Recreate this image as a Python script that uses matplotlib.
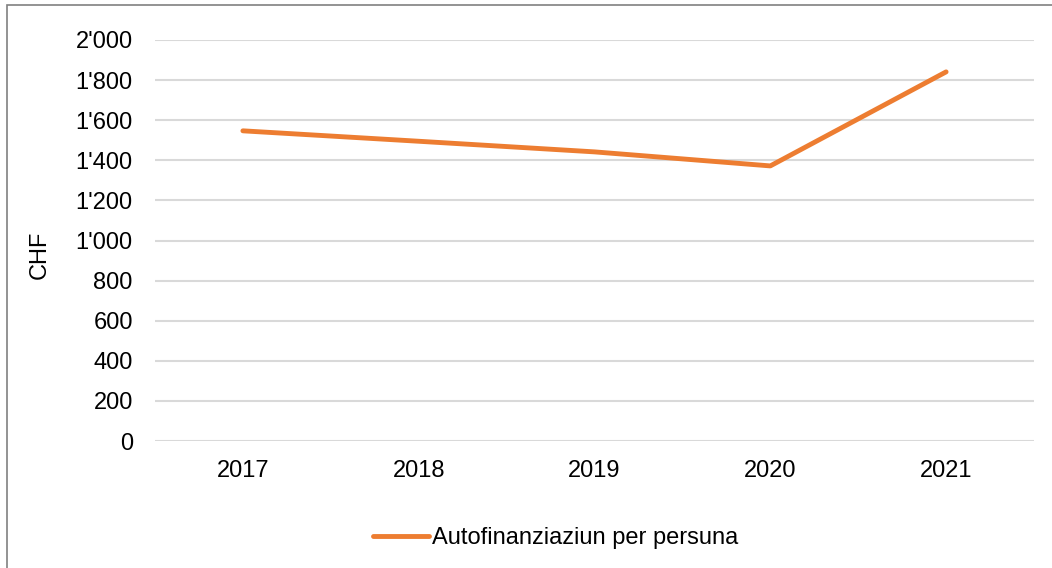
import matplotlib.pyplot as plt
from matplotlib.patches import Rectangle
from matplotlib.ticker import FuncFormatter

years = ['2017', '2018', '2019', '2020', '2021']
values = [1547, 1495, 1442, 1372, 1841]
series_name = 'Autofinanziaziun per persuna'

plt.rcParams['font.family'] = ['Liberation Sans', 'DejaVu Sans']

fig = plt.figure(figsize=(10.52, 5.68), dpi=100)
W, H = 1052, 568
ax = fig.add_axes([155 / W, 1 - 441 / H, (1034 - 155) / W, (441 - 40) / H])

x = range(len(years))
ax.plot(x, values, color='#ED7D31', linewidth=3.5, solid_capstyle='round',
        solid_joinstyle='round', label=series_name)

ax.set_xlim(-0.5, len(years) - 0.5)
ax.set_ylim(0, 2000)
ax.set_yticks(range(0, 2001, 200))
ax.yaxis.set_major_formatter(FuncFormatter(lambda v, p: f'{int(v):,}'.replace(',', "'")))
ax.set_xticks(list(x))
ax.set_xticklabels(years)
ax.tick_params(axis='both', length=0, labelsize=17, colors='black')
ax.tick_params(axis='y', pad=16)
ax.tick_params(axis='x', pad=14)
ax.grid(axis='y', color='#D9D9D9', linewidth=1.5)
ax.set_axisbelow(True)
for s in ax.spines.values():
    s.set_visible(False)

fig.text(40 / W, 1 - 255 / H, 'CHF', rotation=90, fontsize=17, ha='center', va='center')

fig.legend(loc='center', bbox_to_anchor=(556 / W, 1 - 538 / H), frameon=False,
           fontsize=17, handlelength=2.35, handletextpad=0.15)

fig.patches.append(Rectangle((6.5 / W, -0.1), 1.2, 1 - 4.5 / H + 0.1, transform=fig.transFigure,
                             fill=False, edgecolor='#808080', linewidth=1.2))

fig.savefig('out.png', dpi=100)
